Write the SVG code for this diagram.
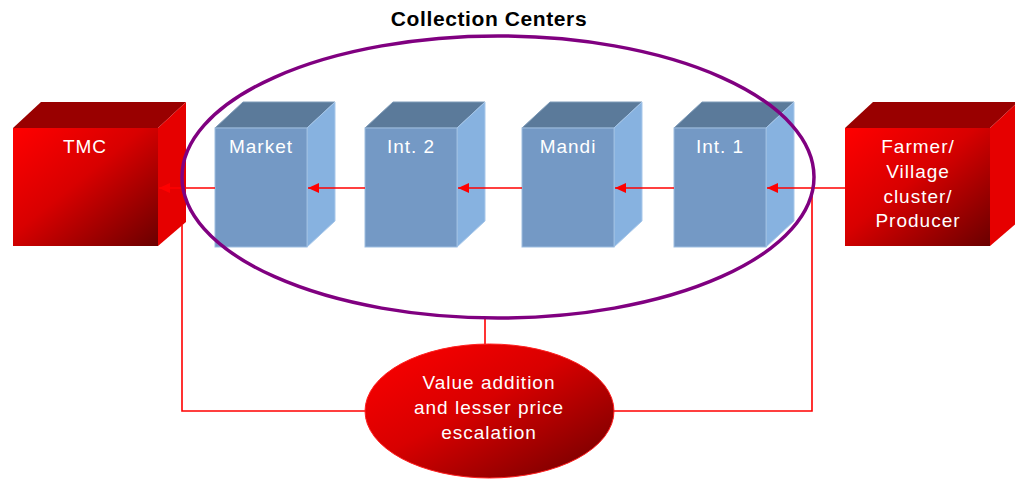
<svg xmlns="http://www.w3.org/2000/svg" width="1015" height="479" viewBox="0 0 1015 479">
<defs>
<linearGradient id="redGrad" x1="0" y1="0" x2="1" y2="1">
<stop offset="0" stop-color="#ff0000"/>
<stop offset="0.45" stop-color="#d80000"/>
<stop offset="1" stop-color="#6a0000"/>
</linearGradient>
<marker id="arr" markerUnits="userSpaceOnUse" markerWidth="11" markerHeight="10" refX="11" refY="5" orient="auto">
<path d="M0,0 L11,5 L0,10 z" fill="#ff0000"/>
</marker>
</defs>
<style>
.bfront{fill:#7499c5;stroke:#9dbde0;stroke-width:1}
.btop{fill:#5b7a9a;stroke:#7e9bb8;stroke-width:1}
.bright{fill:#87b2e0;stroke:#a8c8ea;stroke-width:1}
.rfront{fill:url(#redGrad)}
.rtop{fill:#990000}
.rright{fill:#e60000}
.lbl{font-family:"Liberation Sans",Arial,sans-serif;font-size:19px;fill:#ffffff;text-anchor:middle;letter-spacing:1px}
.title{font-family:"Liberation Sans",Arial,sans-serif;font-size:21px;font-weight:bold;fill:#000000;text-anchor:middle;letter-spacing:0.6px}
.conn{stroke:#ff0000;stroke-width:1.6;fill:none}
</style>
<rect width="1015" height="479" fill="#ffffff"/>
<text class="title" x="489" y="26">Collection Centers</text>

<g id="tmc">
<polygon class="rtop" points="13,128 41,102 186,102 158,128"/>
<polygon class="rright" points="158,128 186,102 186,222 158,246"/>
<rect class="rfront" x="13" y="128" width="145" height="118"/>
<text class="lbl" x="85" y="153">TMC</text>
</g>

<g id="market">
<polygon class="btop" points="215,128 243,102 335,102 307,128"/>
<polygon class="bright" points="307,128 335,102 335,221 307,247"/>
<rect class="bfront" x="215" y="128" width="92" height="119"/>
<text class="lbl" x="261" y="153">Market</text>
</g>

<g id="int2">
<polygon class="btop" points="365,128 393,102 485,102 457,128"/>
<polygon class="bright" points="457,128 485,102 485,221 457,247"/>
<rect class="bfront" x="365" y="128" width="92" height="119"/>
<text class="lbl" x="411" y="153">Int. 2</text>
</g>

<g id="mandi">
<polygon class="btop" points="522,128 550,102 642,102 614,128"/>
<polygon class="bright" points="614,128 642,102 642,221 614,247"/>
<rect class="bfront" x="522" y="128" width="92" height="119"/>
<text class="lbl" x="568" y="153">Mandi</text>
</g>

<g id="int1">
<polygon class="btop" points="674,128 702,102 794,102 766,128"/>
<polygon class="bright" points="766,128 794,102 794,221 766,247"/>
<rect class="bfront" x="674" y="128" width="92" height="119"/>
<text class="lbl" x="720" y="153">Int. 1</text>
</g>

<g id="farmer">
<polygon class="rtop" points="845,128 873,102 1018,102 990,128"/>
<polygon class="rright" points="990,128 1018,102 1018,222 990,246"/>
<rect class="rfront" x="845" y="128" width="145" height="118"/>
<text class="lbl" x="918" y="153">Farmer/</text>
<text class="lbl" x="918" y="178">Village</text>
<text class="lbl" x="918" y="203">cluster/</text>
<text class="lbl" x="918" y="227">Producer</text>
</g>

<g id="connectors">
<line class="conn" x1="845" y1="188" x2="767" y2="188" marker-end="url(#arr)"/>
<line class="conn" x1="674" y1="188" x2="615" y2="188" marker-end="url(#arr)"/>
<line class="conn" x1="522" y1="188" x2="458" y2="188" marker-end="url(#arr)"/>
<line class="conn" x1="365" y1="188" x2="308" y2="188" marker-end="url(#arr)"/>
<line class="conn" x1="215" y1="188" x2="159" y2="188" marker-end="url(#arr)"/>
<polyline class="conn" points="182,225 182,411 366,411"/>
<polyline class="conn" points="812,188 812,411 613,411"/>
<line class="conn" x1="485" y1="318" x2="485" y2="344"/>
</g>

<g id="collection-centers">
<ellipse cx="498" cy="177" rx="316" ry="141" fill="none" stroke="#800080" stroke-width="3.5"/>
</g>

<g id="value-addition">
<ellipse cx="489.5" cy="411" rx="124.5" ry="67" fill="url(#redGrad)" stroke="#ff2020" stroke-width="1"/>
<text class="lbl" x="489" y="389">Value addition</text>
<text class="lbl" x="489" y="414">and lesser price</text>
<text class="lbl" x="489" y="439">escalation</text>
</g>
</svg>
